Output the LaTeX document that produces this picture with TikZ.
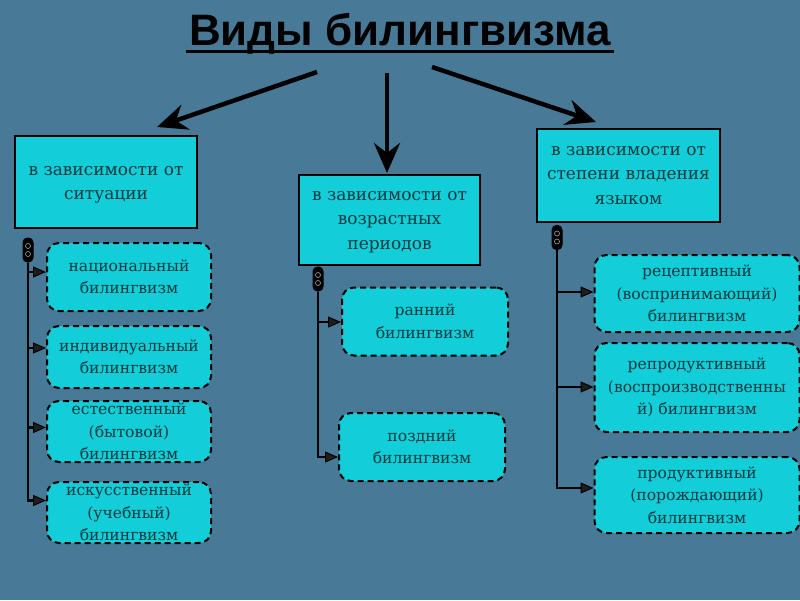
\documentclass[tikz,border=0pt]{standalone}
\usepackage{fontspec}
\setmainfont{DejaVu Serif}
\newfontfamily\titlefont{Liberation Sans}
\usetikzlibrary{arrows.meta}
\definecolor{bg}{RGB}{72,122,152}
\definecolor{boxc}{RGB}{18,206,216}
\definecolor{txt}{RGB}{16,58,64}
\definecolor{tipc}{RGB}{30,30,30}
\tikzset{
  mainbox/.style={draw=black, line width=2pt, fill=boxc, text=txt, align=center, inner sep=0pt,
    font=\fontsize{17}{24.5}\selectfont},
  maintext/.style={text=txt, align=center, font=\fontsize{17}{24.5}\selectfont},
  subbox/.style={draw=black, line width=2pt, dash pattern=on 6pt off 4pt, rounded corners=12pt,
    fill=boxc, text=txt, align=center, inner sep=0pt, font=\fontsize{15.6}{22.5}\selectfont},
  bigarrow/.style={line width=4.5pt, -{Stealth[length=30pt,width=26pt,inset=10pt]}},
  branch/.style={line width=2.5pt, -{Triangle[length=13pt,width=11pt,line width=1pt,color=black,fill=tipc]}},
  knob/.style={draw=black, fill=black, line width=1pt, rounded corners=4.5pt, minimum width=10pt,
    minimum height=24pt, inner sep=0pt},
}
\begin{document}
\begin{tikzpicture}[x=1pt,y=-1pt]
\fill[bg] (0,0) rectangle (800,600);
\useasboundingbox (0,0) rectangle (800,600);
% title
\node[font=\titlefont\bfseries\fontsize{44}{50}\selectfont, inner xsep=3pt, anchor=base] (title) at (400,45) {Виды билингвизма};
\draw[line width=3pt] ([yshift=-6pt]title.base west) -- ([yshift=-6pt]title.base east);
% main boxes
\node[mainbox, minimum width=182pt, minimum height=92pt] (A) at (106,182) {};
\node[maintext] (At) at (106,185) {в зависимости от\\ситуации};
\node[mainbox, minimum width=181pt, minimum height=90pt] (B) at (389.5,220) {};
\node[maintext] (Bt) at (389.5,222) {в зависимости от\\возрастных\\периодов};
\node[mainbox, minimum width=183pt, minimum height=93pt] (C) at (628.5,175.5) {в зависимости от\\степени владения\\языком};
% top arrows
\coordinate (s1) at (317,72);
\coordinate (t1) at (157,127);
\coordinate (s2) at (387,73);
\coordinate (t2) at (387,173);
\coordinate (s3) at (432,67);
\coordinate (t3) at (596,122);
\draw[bigarrow] (s1) -- (t1);
\draw[bigarrow] (s2) -- (t2);
\draw[bigarrow] (s3) -- (t3);
% sub boxes left
\node[subbox, minimum width=164pt, minimum height=68pt] (L1) at (129,277) {национальный\\билингвизм};
\node[subbox, minimum width=164pt, minimum height=62pt] (L2) at (129,357) {индивидуальный\\билингвизм};
\node[subbox, minimum width=164pt, minimum height=61pt] (L3) at (129,431.5) {естественный\\(бытовой)\\билингвизм};
\node[subbox, minimum width=164pt, minimum height=61pt] (L4) at (129,512.5) {искусственный\\(учебный)\\билингвизм};
% sub boxes middle
\node[subbox, minimum width=166pt, minimum height=68pt] (M1) at (425,321.5) {ранний\\билингвизм};
\node[subbox, minimum width=166pt, minimum height=68pt] (M2) at (422,447) {поздний\\билингвизм};
% sub boxes right
\node[subbox, minimum width=205pt, minimum height=77pt] (R1) at (697,293.5) {рецептивный\\(воспринимающий)\\билингвизм};
\node[subbox, minimum width=205pt, minimum height=89pt] (R2) at (697,387.5) {репродуктивный\\(воспроизводственны\\й) билингвизм};
\node[subbox, minimum width=205pt, minimum height=76pt] (R3) at (697,495) {продуктивный\\(порождающий)\\билингвизм};
% knobs
\node[knob] (KA) at (28,250) {};
\node[knob] (KB) at (318,279) {};
\node[knob] (KC) at (557,237.5) {};
\foreach \k in {KA,KB,KC}{
  \draw[gray!70, line width=0.6pt] ([yshift=4pt]\k.center) circle (2.5pt);
  \draw[gray!70, line width=0.6pt] ([yshift=-4pt]\k.center) circle (2.5pt);
}
% branches
\draw[branch] (KA.south) |- ([yshift=5pt]L1.west);
\draw[branch] (KA.south) |- ([yshift=9pt]L2.west);
\draw[branch] (KA.south) |- ([yshift=4pt]L3.west);
\draw[branch] (KA.south) |- ([yshift=12pt]L4.west);
\draw[branch] (KB.south) |- ([yshift=-0.5pt]M1.west);
\draw[branch] (KB.south) |- ([yshift=-10pt]M2.west);
\draw[branch] (KC.south) |- ([yshift=1.5pt]R1.west);
\draw[branch] (KC.south) |- ([yshift=0.5pt]R2.west);
\draw[branch] (KC.south) |- ([yshift=7pt]R3.west);
\end{tikzpicture}
\end{document}
